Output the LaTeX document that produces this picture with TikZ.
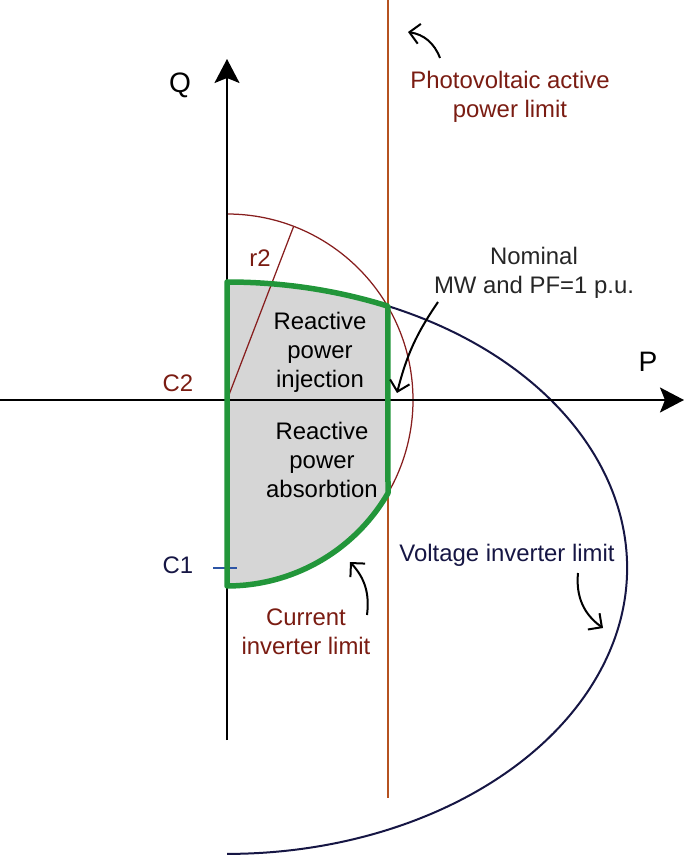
\documentclass[tikz,border=0pt]{standalone}
\usepackage{fontspec}
\setsansfont{Liberation Sans}
\usetikzlibrary{arrows.meta}

\definecolor{pvline}{RGB}{181,82,32}
\definecolor{pvtext}{RGB}{122,28,18}
\definecolor{curline}{RGB}{135,30,30}
\definecolor{voltline}{RGB}{22,22,68}
\definecolor{limgreen}{RGB}{34,150,58}
\definecolor{regfill}{RGB}{214,214,214}
\definecolor{tickblue}{RGB}{45,85,165}

\tikzset{
  axis/.style={line width=0.4mm, -{Stealth[length=4.8mm,width=5mm,inset=1mm]}},
  callout/.style={line width=0.4mm, -{Straight Barb[length=2mm,width=4mm]}},
  lbl/.style={align=center, font=\sffamily\fontsize{13.6}{16.5}\selectfont},
  axlbl/.style={font=\sffamily\fontsize{16}{19}\selectfont},
}

\begin{document}
\begin{tikzpicture}[x=0.2mm, y=0.2mm]
\useasboundingbox (-227,-457) rectangle (458,400);
% centres and corner points
\coordinate (C2) at (0,0); \coordinate (C1) at (0,-168);
\coordinate (T) at (0,118); \coordinate (N) at (161,93.9); \coordinate (M) at (161,-93.1);
% shaded region
\fill[regfill] (T) arc[start angle=90, end angle=66.27, x radius=400, y radius=286] -- (M) arc[start angle=-30.05, end angle=-90, radius=186] -- cycle;
% limits
\draw[pvline, line width=0.5mm] (161,400) -- (161,-398);
\draw[curline, line width=0.25mm] (0,186) arc[start angle=90, end angle=-30.05, radius=186];
\draw[curline, line width=0.25mm] (C2) -- (69:186);
\draw[voltline, line width=0.4mm] (N) arc[start angle=66.27, end angle=-90, x radius=400, y radius=286];
% axes
\draw[axis] (0,-340) -- (0,341);
\draw[axis] (-227,0) -- (457,0);
\node[axlbl] (Q) at (-47,315) {Q};
\node[axlbl] (P) at (421,38) {P};
% operating region
\draw[tickblue, line width=0.3mm] (-14,-168) -- (10,-168);
\draw[limgreen, line width=1.1mm, line join=round] (T) arc[start angle=90, end angle=66.27, x radius=400, y radius=286] -- (M) arc[start angle=-30.05, end angle=-90, radius=186] -- cycle;
% labels
\node[lbl, text=pvtext] (r2) at (33,142) {r2};
\node[lbl, text=pvtext] (c2) at (-49,17) {C2};
\node[lbl, text=voltline] (c1) at (-49,-165) {C1};
\node[lbl] (inj) at (93,48) {Reactive\\power\\injection};
\node[lbl] (abs) at (95,-60) {Reactive\\power\\absorbtion};
\node[lbl, text=pvtext] (pv) at (283,303) {Photovoltaic active\\power limit};
\node[lbl, text=black!85] (nom) at (307,127) {Nominal\\MW and PF=1 p.u.};
\node[lbl, text=pvtext] (cur) at (79,-232) {Current\\inverter limit};
\node[lbl, text=voltline] (volt) at (280,-155) {Voltage inverter limit};
% callout arrows
\coordinate (pvA) at (213,342); \coordinate (pvB) at (181,368);
\coordinate (nomA) at (211,98); \coordinate (nomB) at (170,7);
\coordinate (curA) at (140,-215); \coordinate (curB) at (123,-162);
\coordinate (voltA) at (351,-173); \coordinate (voltB) at (376,-228);
\draw[callout] (pvA) to[bend right=30] (pvB);
\draw[callout] (nomA) to[bend right=10] (nomB);
\draw[callout] (curA) to[bend right=25] (curB);
\draw[callout] (voltA) to[bend right=30] (voltB);
\end{tikzpicture}
\end{document}
